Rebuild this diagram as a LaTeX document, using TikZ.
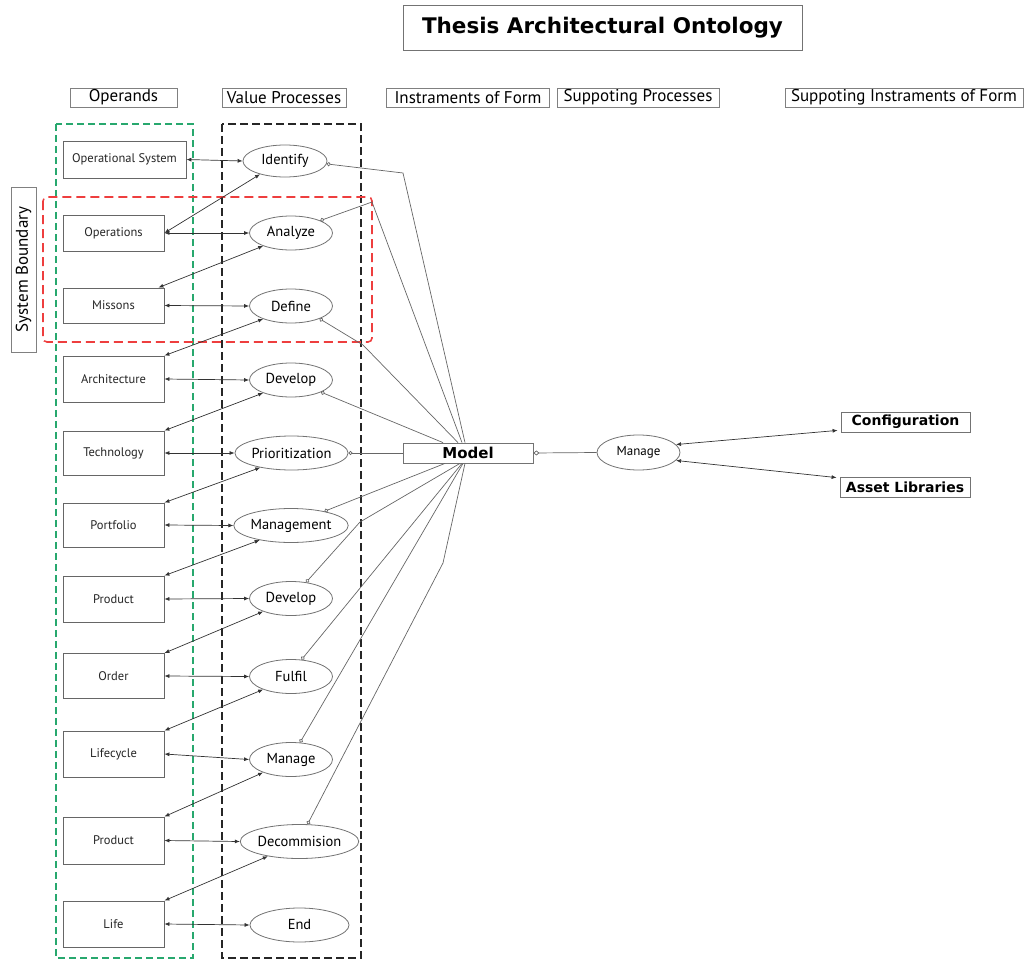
\documentclass[tikz,border=0pt]{standalone}
\usepackage{fontspec}
\setmainfont{PT Sans}
\newfontfamily\boldsans{DejaVu Sans}
\usetikzlibrary{arrows.meta,calc,shapes.geometric}

\definecolor{opgreen}{RGB}{40,168,110}
\definecolor{bndred}{RGB}{238,62,62}

\tikzset{
  opbox/.style={draw=black!60, fill=white, line width=0.8pt, minimum width=101pt,
    minimum height=46pt, inner sep=0pt, text=black!85,
    font=\fontsize{12.5}{14}\selectfont},
  proc/.style={ellipse, draw=black!55, fill=white, line width=0.8pt, minimum width=83pt,
    minimum height=34pt, inner sep=0pt, font=\fontsize{14.5}{16}\selectfont},
  hdr/.style={draw=black!50, fill=white, line width=0.8pt, inner sep=0pt,
    minimum height=19pt, font=\fontsize{17}{18}\selectfont},
  formbox/.style={draw=black!55, fill=white, line width=0.8pt, inner sep=0pt,
    minimum height=20pt, font=\boldsans\bfseries\fontsize{14}{16}\selectfont},
  link/.style={black!80, line width=0.7pt,
    {Latex[length=5pt,width=4pt]}-{Latex[length=5pt,width=4pt]}},
  feed/.style={black!60, line width=0.7pt, {Circle[open,length=4pt,width=4pt]}-},
  feedd/.style={black!60, line width=0.7pt, {Diamond[open,length=6pt,width=5pt]}-},
}

\begin{document}
\begin{tikzpicture}[x=1pt,y=-1pt]
\useasboundingbox (0,0) rectangle (1025,963);

% title and column headers
\node[draw=black!55, line width=0.8pt, minimum width=399pt, minimum height=45pt,
  inner sep=0pt, font=\boldsans\bfseries\fontsize{21.5}{24}\selectfont]
  (title) at (602.5,27.5) {Thesis Architectural Ontology};

\node[hdr, minimum width=107pt] (hOp)   at (123.5,97.5) {Operands};
\node[hdr, minimum width=124pt] (hVal)  at (284,97.5)   {Value Processes};
\node[hdr, minimum width=163pt] (hIoF)  at (468,97.5)   {Instraments of Form};
\node[hdr, minimum width=162pt] (hSup)  at (638,97.5)   {Suppoting Processes};
\node[hdr, minimum width=238pt] (hSIoF) at (904,97.5)   {Suppoting Instraments of Form};

\node[hdr, rotate=90, minimum width=165pt, minimum height=25pt] (sb) at (23.5,269.5) {System Boundary};

% grouping frames
\draw[opgreen, line width=1.4pt, dash pattern=on 7pt off 4pt] (56,124) rectangle (193,958);
\draw[black!85, line width=1.5pt, dash pattern=on 8pt off 4pt] (222,124) rectangle (361,958);
\draw[bndred, line width=1.6pt, dash pattern=on 9pt off 5pt, rounded corners=4pt] (43,197) rectangle (372,342);

% operands
\node[opbox, minimum width=123pt, minimum height=37pt] (ops) at (124.5,159.5) {Operational System};
\node[opbox, minimum height=36pt] (opn) at (113.5,233)   {Operations};
\node[opbox, minimum height=35pt] (mis) at (113.5,305.5) {Missons};
\node[opbox] (arc) at (113.5,379)   {Architecture};
\node[opbox, minimum height=44pt] (tec) at (113.5,453) {Technology};
\node[opbox, minimum height=44pt] (por) at (113.5,525) {Portfolio};
\node[opbox] (pr1) at (113.5,599)   {Product};
\node[opbox, minimum height=45pt] (ord) at (113.5,676) {Order};
\node[opbox] (lif) at (113.5,754)   {Lifecycle};
\node[opbox, minimum height=47pt] (pr2) at (113.5,840.5) {Product};
\node[opbox] (lfe) at (113.5,924)   {Life};

% value processes
\node[proc, minimum width=84pt, minimum height=32pt] (idf) at (285,161) {Identify};
\node[proc] (ana) at (291,233)   {Analyze};
\node[proc] (def) at (291,306)   {Define};
\node[proc] (dv1) at (291,380)   {Develop};
\node[proc, minimum width=101pt] (pri) at (291.5,453) {Prioritization};
\node[proc] (mgt) at (291,525.5) {Management};
\node[proc] (dv2) at (291,598.5) {Develop};
\node[proc] (ful) at (291,676.5) {Fulfil};
\node[proc] (man) at (291,759.5) {Manage};
\node[proc, minimum width=99pt] (dec) at (299.5,841.5) {Decommision};
\node[proc, minimum width=99pt] (end) at (299.5,925)   {End};

% instruments of form and supporting elements
\node[formbox, minimum width=130pt, font=\boldsans\bfseries\fontsize{15}{17}\selectfont] (mdl) at (468,453) {Model};
\node[proc, minimum height=35pt, font=\fontsize{13}{15}\selectfont] (mg2) at (638.5,452.5) {Manage};
\node[formbox, minimum width=129pt] (cfg) at (905.5,422) {Configuration};
\node[formbox, minimum width=130pt] (ast) at (905,487)   {Asset Libraries};

% operand <-> process links
\foreach \a/\b in {ops/idf, opn/ana, mis/def, arc/dv1, tec/pri, por/mgt,
                   pr1/dv2, ord/ful, lif/man, pr2/dec, lfe/end}
  \draw[link] (\a.east) -- (\b.west);

% process -> next operand links
\draw[link] (idf.208) -- (opn.east);
\draw[link] (ana.205) -- ([xshift=-6pt]mis.north east);
\foreach \a/\b in {def/arc, dv1/tec, pri/por, mgt/pr1, dv2/ord,
                   ful/lif, man/pr2, dec/lfe}
  \draw[link] (\a.205) -- (\b.north east);

% processes feeding the model
\coordinate (kI) at (403,173);
\coordinate (kA) at (372,202);
\coordinate (kD) at (363,345);
\coordinate (kV) at (360,522);
\coordinate (kC) at (443,563);
\draw[feed] (idf.356) -- (kI) -- ([xshift=-3pt]mdl.north);
\draw[feed] (ana.23)  -- (kA) -- ([xshift=-6pt]mdl.north);
\draw[feed] (def.336) -- (kD) -- ([xshift=-10pt]mdl.north);
\draw[feed] (dv1.338) -- ([xshift=-25pt]mdl.north);
\draw[feed] (pri.east) -- (mdl.west);
\draw[feed] (mgt.23)  -- ([xshift=-23pt]mdl.south);
\draw[feed] (dv2.47)  -- (kV) -- ([xshift=-8pt]mdl.south);
\draw[feed] (ful.58)  -- ([xshift=-6pt]mdl.south);
\draw[feed] (man.62)  -- ([xshift=-5pt]mdl.south);
\draw[feed] (dec.65)  -- (kC) -- ([xshift=-3pt]mdl.south);

% model to supporting process and its instruments
\draw[feedd] (mdl.east) -- (mg2.west);
\draw[link] (mg2.12)  -- ([shift={(-3pt,2pt)}]cfg.south west);
\draw[link] (mg2.-12) -- ([shift={(-3pt,-1pt)}]ast.north west);
\end{tikzpicture}
\end{document}
